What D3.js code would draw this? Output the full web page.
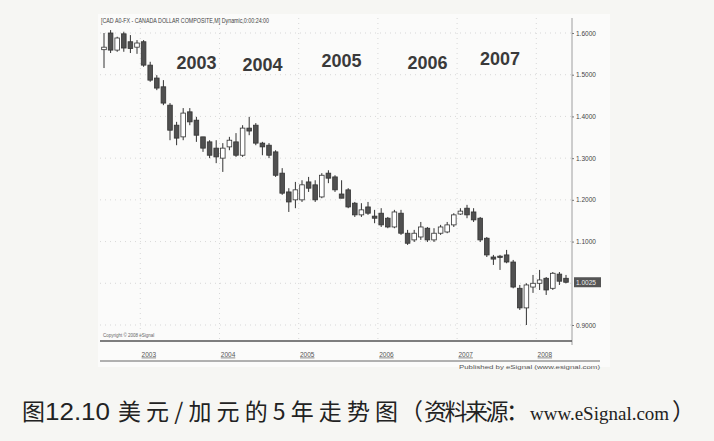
<!DOCTYPE html>
<html><head><meta charset="utf-8">
<script src="https://cdn.jsdelivr.net/npm/d3@7/dist/d3.min.js"></script>
<style>
html,body{margin:0;padding:0;background:#f6f6f3;}
svg{display:block;}
</style></head>
<body>
<svg id="c" width="714" height="441"></svg>
<script>
// ---- data (monthly USD/CAD) ----
const months = ["2002-07","2002-08","2002-09","2002-10","2002-11","2002-12",
"2003-01","2003-02","2003-03","2003-04","2003-05","2003-06","2003-07","2003-08","2003-09","2003-10","2003-11","2003-12",
"2004-01","2004-02","2004-03","2004-04","2004-05","2004-06","2004-07","2004-08","2004-09","2004-10","2004-11","2004-12",
"2005-01","2005-02","2005-03","2005-04","2005-05","2005-06","2005-07","2005-08","2005-09","2005-10","2005-11","2005-12",
"2006-01","2006-02","2006-03","2006-04","2006-05","2006-06","2006-07","2006-08","2006-09","2006-10","2006-11","2006-12",
"2007-01","2007-02","2007-03","2007-04","2007-05","2007-06","2007-07","2007-08","2007-09","2007-10","2007-11","2007-12",
"2008-01","2008-02","2008-03","2008-04","2008-05"];
const opens  = [1.560,1.600,1.559,1.598,1.579,1.566,1.579,1.523,1.492,1.471,1.427,1.379,1.351,1.411,1.391,1.351,1.339,1.324,
1.300,1.327,1.339,1.307,1.372,1.379,1.336,1.331,1.315,1.264,1.219,1.200,
1.200,1.243,1.236,1.207,1.264,1.255,1.214,1.224,1.192,1.164,1.183,1.161,
1.168,1.156,1.135,1.168,1.120,1.104,1.111,1.132,1.104,1.120,1.123,1.140,
1.166,1.180,1.171,1.156,1.108,1.063,1.065,1.068,1.051,0.988,0.941,0.991,
1.000,1.012,0.988,1.022,1.012];
const highs  = [1.600,1.607,1.591,1.603,1.595,1.583,1.583,1.531,1.499,1.487,1.432,1.387,1.420,1.420,1.399,1.351,1.343,1.343,
1.336,1.351,1.360,1.379,1.399,1.384,1.339,1.336,1.319,1.276,1.228,1.243,
1.247,1.255,1.247,1.264,1.271,1.259,1.247,1.228,1.195,1.192,1.195,1.176,
1.180,1.159,1.176,1.176,1.128,1.128,1.147,1.135,1.132,1.140,1.147,1.168,
1.180,1.188,1.180,1.159,1.111,1.068,1.068,1.080,1.056,0.996,1.000,1.020,
1.032,1.015,1.027,1.027,1.020];
const lows   = [1.516,1.552,1.555,1.555,1.552,1.550,1.519,1.483,1.463,1.427,1.343,1.331,1.343,1.379,1.339,1.315,1.300,1.288,
1.267,1.319,1.303,1.303,1.355,1.331,1.307,1.300,1.255,1.212,1.171,1.180,
1.195,1.219,1.195,1.204,1.240,1.219,1.204,1.180,1.159,1.159,1.164,1.144,
1.135,1.132,1.132,1.116,1.092,1.099,1.104,1.099,1.099,1.116,1.120,1.135,
1.164,1.156,1.147,1.099,1.063,1.044,1.032,1.048,0.988,0.936,0.900,0.977,
0.984,0.972,0.984,0.996,1.000];
const closes = [1.566,1.559,1.588,1.564,1.563,1.576,1.523,1.487,1.468,1.432,1.367,1.348,1.408,1.387,1.355,1.324,1.307,1.303,
1.324,1.343,1.307,1.372,1.365,1.336,1.327,1.307,1.259,1.216,1.195,1.224,
1.236,1.228,1.200,1.259,1.252,1.224,1.204,1.183,1.164,1.176,1.168,1.156,
1.140,1.135,1.171,1.120,1.096,1.120,1.135,1.104,1.120,1.135,1.140,1.164,
1.173,1.164,1.152,1.104,1.068,1.058,1.063,1.051,0.991,0.941,0.996,1.000,
1.008,0.984,1.024,1.005,1.0025];
const priceTicks = [0.9,1.1,1.2,1.3,1.4,1.5,1.6];
const gridLevels = [0.9,1.0,1.1,1.2,1.3,1.4,1.5,1.6];
const yearMonths = ["2003-01","2004-01","2005-01","2006-01","2007-01","2008-01"];
const bigYears = ["2003","2004","2005","2006","2007"];
const bigYearMonths = ["2003-09","2004-07","2005-07","2006-08","2007-07"];
const lastPrice = 1.0025;
const titleText = "[CAD A0-FX - CANADA DOLLAR COMPOSITE,M] Dynamic,0:00:24:00";
const captionParts = ["图","12.10","美元/加元的5年走势图","（","资料来源：","www.eSignal.com","）"];

const data = months.map((m,i)=>({m, o:opens[i], h:highs[i], l:lows[i], c:closes[i]}));

const svg = d3.select("#c");
const x = d3.scaleBand().domain(months).range([100.7, 569.3]).paddingInner(0.3).paddingOuter(0.15);
const y = d3.scaleLinear().domain([0.9, 1.6]).range([325, 33]);
const pLeft = 100, pRight = 572, pTop = 18, pBottom = 341;

// chart paper
svg.append("rect").attr("x",pLeft-2).attr("y",pTop-4).attr("width",pRight-pLeft+40).attr("height",pBottom-pTop+30).attr("fill","#fbfbfa");

// grid
const g = svg.append("g");
g.selectAll("line.h").data(gridLevels).join("line")
  .attr("x1",pLeft).attr("x2",pRight).attr("y1",d=>y(d)).attr("y2",d=>y(d))
  .attr("stroke","#c8c8c8").attr("stroke-width",0.7).attr("stroke-dasharray","1,4");
g.selectAll("line.v").data(yearMonths).join("line")
  .attr("x1",d=>x(d)-x.step()*0.15).attr("x2",d=>x(d)-x.step()*0.15).attr("y1",pTop).attr("y2",pBottom)
  .attr("stroke","#c8c8c8").attr("stroke-width",0.7).attr("stroke-dasharray","1,4");

// title
svg.append("text").attr("x",101).attr("y",23).text(titleText)
  .attr("font-family","Liberation Sans, Arial").attr("font-size",6.8).attr("fill","#444")
  .attr("textLength",168).attr("lengthAdjust","spacingAndGlyphs");

// candles
const cg = svg.append("g");
const cx = d=>x(d.m)+x.bandwidth()/2;
cg.selectAll("line.w").data(data).join("line")
  .attr("x1",cx).attr("x2",cx).attr("y1",d=>y(d.h)).attr("y2",d=>y(d.l))
  .attr("stroke","#333").attr("stroke-width",1);
cg.selectAll("rect").data(data).join("rect")
  .attr("x",d=>x(d.m)).attr("width",x.bandwidth())
  .attr("y",d=>y(Math.max(d.o,d.c)))
  .attr("height",d=>Math.max(1.2, Math.abs(y(d.o)-y(d.c))))
  .attr("fill",d=>d.c<d.o?"#505050":"#ffffff")
  .attr("stroke","#333").attr("stroke-width",0.8);

// big year labels
svg.selectAll("text.big").data(bigYears).join("text")
  .attr("x",(d,i)=>x(bigYearMonths[i])+x.bandwidth()/2)
  .attr("y",(d,i)=>[69,71,67,69,65][i])
  .attr("text-anchor","middle").text(d=>d)
  .attr("font-family","Liberation Sans, Arial").attr("font-weight","bold")
  .attr("font-size",18).attr("fill","#3a3a3a");

// right axis
const ya = svg.append("g").attr("transform",`translate(${pRight},0)`)
  .call(d3.axisRight(y).tickValues(priceTicks).tickFormat(d3.format(".4f")).tickSize(2));
ya.select(".domain").remove();
ya.selectAll("text").attr("font-family","Liberation Sans, Arial").attr("font-size",6.5).attr("fill","#444").attr("x",4);
ya.selectAll("line").attr("stroke","#777");
svg.append("line").attr("x1",pRight).attr("x2",pRight).attr("y1",pTop).attr("y2",pBottom+4).attr("stroke","#888").attr("stroke-width",0.8);
// last price tag
svg.append("rect").attr("x",pRight+2).attr("y",y(lastPrice)-5).attr("width",27).attr("height",10).attr("fill","#555");
svg.append("text").attr("x",pRight+4).attr("y",y(lastPrice)+2.5).text(d3.format(".4f")(lastPrice))
  .attr("font-family","Liberation Sans, Arial").attr("font-size",6.5).attr("fill","#eee");

// bottom frame
svg.append("line").attr("x1",pLeft).attr("x2",pRight).attr("y1",pBottom).attr("y2",pBottom).attr("stroke","#555").attr("stroke-width",1.4);
svg.append("text").attr("x",103).attr("y",pBottom-4).text("Copyright © 2008 eSignal")
  .attr("font-family","Liberation Sans, Arial").attr("font-size",4.5).attr("fill","#666");

// x axis labels
const xa = svg.append("g").attr("transform",`translate(0,${pBottom+8})`)
  .call(d3.axisBottom(x).tickValues(yearMonths).tickFormat(d=>d.slice(0,4)).tickSize(0));
xa.select(".domain").remove();
xa.selectAll("text").attr("font-family","Liberation Sans, Arial").attr("font-size",6.5).attr("fill","#555")
  .attr("text-anchor","start").attr("dx",-2).attr("text-decoration","underline");
svg.append("line").attr("x1",pLeft).attr("x2",600).attr("y1",pBottom+20).attr("y2",pBottom+20).attr("stroke","#666").attr("stroke-width",1);
svg.append("text").attr("x",459).attr("y",pBottom+28).text("Published by eSignal (www.esignal.com)")
  .attr("font-family","Liberation Sans, Arial").attr("font-size",6).attr("fill","#555")
  .attr("textLength",141).attr("lengthAdjust","spacingAndGlyphs");

// caption (segments laid out to match the printed caption)
const capX = [22, 45, 118, 400, 424, 530, 672];
const capW = [22, 65, 280, 23, 105, 0, 22];
const capFont = ["Noto Sans CJK SC","Liberation Sans","Noto Sans CJK SC","Noto Sans CJK SC","Noto Sans CJK SC","Liberation Serif","Noto Sans CJK SC"];
const cap = svg.append("text").attr("y",420).attr("font-size",23).attr("fill","#222");
captionParts.forEach((t,i)=>{
  const ts = cap.append("tspan").attr("x",capX[i]).attr("font-family",capFont[i]).text(t);
  if (i===5) ts.attr("font-size",19);
  if (i===1 || i===2 || i===4) ts.attr("textLength",capW[i]).attr("lengthAdjust", i===1 ? "spacingAndGlyphs" : "spacing");
});
</script>
</body></html>
